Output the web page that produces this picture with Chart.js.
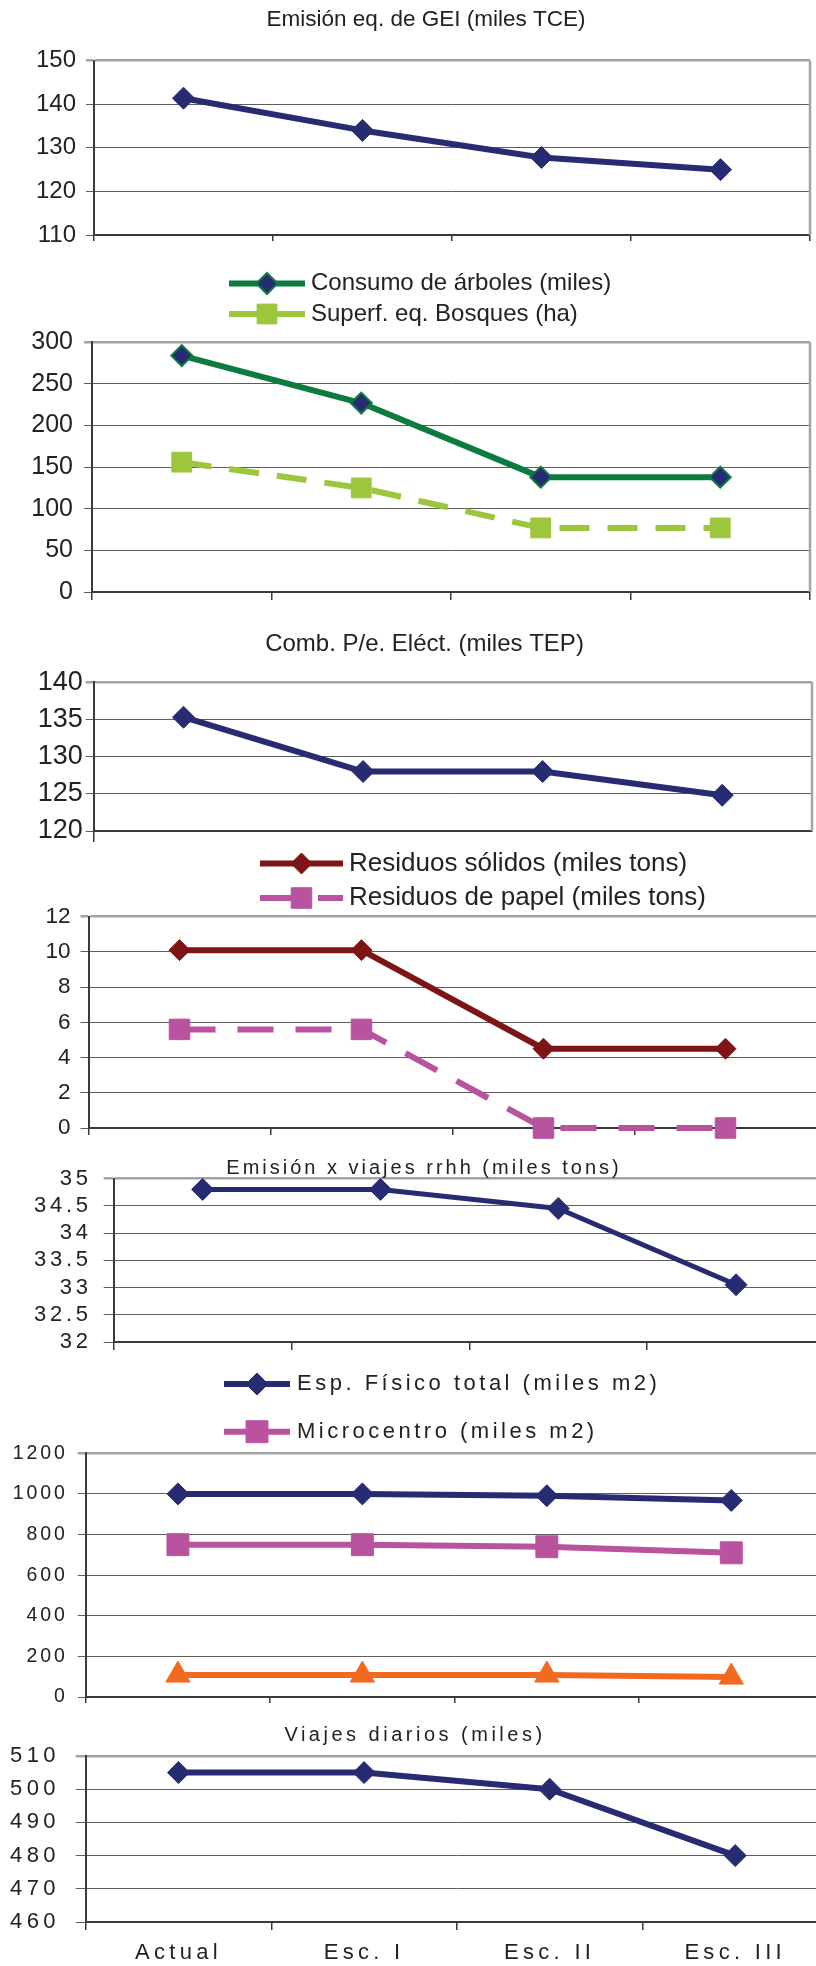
<!DOCTYPE html>
<html>
<head>
<meta charset="utf-8">
<script src="https://cdn.jsdelivr.net/npm/chart.js@4.4.1/dist/chart.umd.min.js"></script>
<style>
  html, body { margin: 0; padding: 0; background: #fff; overflow: hidden; width: 816px; height: 1966px; }
  .panel { position: absolute; left: 0; }
</style>
</head>
<body>
<script>
/* Escenarios: Actual, Esc. I, Esc. II, Esc. III */

const CATEGORIES = ['Actual', 'Esc. I', 'Esc. II', 'Esc. III'];

// valores
const emisionGEI      = [141.4, 134.0, 127.8, 125.0];
const consumoArboles  = [284, 227, 138, 138];
const superfBosques   = [156, 125, 77, 77];
const combElectrica   = [135.3, 128.0, 128.0, 124.8];
const residuosSolidos = [10.1, 10.1, 4.5, 4.5];
const residuosPapel   = [5.6, 5.6, 0, 0];
const emisionViajes   = [34.8, 34.8, 34.45, 33.05];
const espFisicoTotal  = [1000, 1000, 991, 968];
const microcentro     = [750, 750, 740, 710];
const espOtros        = [108, 108, 108, 98];
const viajesDiarios   = [505, 505, 500, 480];

// ejes y: [min, max, paso]
const axisGEI      = [110, 150, 10];
const axisArboles  = [0, 300, 50];
const axisComb     = [120, 140, 5];
const axisResiduos = [0, 12, 2];
const axisViajesRR = [32, 35, 0.5];
const axisEspacio  = [0, 1200, 200];
const axisViajes   = [460, 510, 10];

const COLOR = {
  navy:      '#272b72',
  green:     '#0c7b3f',
  lightGreen:'#9cc63b',
  darkRed:   '#7d1517',
  pink:      '#b9529f',
  orange:    '#f26a21',
  text:      '#222222',
  grid:      '#5e5e5e',
  frame:     '#a3a3a3',
  axis:      '#3a3a3a',
};

const FONT = '"Liberation Sans", Arial, sans-serif';
const PAGE_W = 840;
const X_AXIS_H = 50;

Chart.defaults.font.family = FONT;
Chart.defaults.color = COLOR.text;

function drawMarker(ctx, ds, x, y) {
  const r = ds.pointRadius;
  ctx.fillStyle = ds.pointBackgroundColor;
  ctx.strokeStyle = ds.pointBorderColor;
  ctx.lineWidth = ds.pointBorderWidth || 1;
  ctx.beginPath();
  if (ds.pointStyle === 'rectRot') {
    ctx.moveTo(x - r, y); ctx.lineTo(x, y - r); ctx.lineTo(x + r, y); ctx.lineTo(x, y + r);
  } else if (ds.pointStyle === 'rect') {
    const s = r * Math.SQRT1_2;
    ctx.rect(x - s, y - s, 2 * s, 2 * s);
  } else {
    ctx.moveTo(x, y - r); ctx.lineTo(x + r * 0.866, y + r / 2); ctx.lineTo(x - r * 0.866, y + r / 2);
  }
  ctx.closePath();
  ctx.fill();
  ctx.stroke();
}

// títulos, leyendas, borde derecho y espaciado de letras
const panelText = {
  id: 'panelText',
  beforeUpdate(chart, args, opts) { chart.ctx.letterSpacing = (opts.spacing || 0) + 'px'; },
  beforeDraw(chart, args, opts) { chart.ctx.letterSpacing = (opts.spacing || 0) + 'px'; },
  beforeDatasetsDraw(chart, args, opts) {
    if (!opts.rightBorder) return;
    const { ctx, chartArea: a } = chart;
    ctx.save();
    ctx.strokeStyle = COLOR.frame;
    ctx.lineWidth = 2.5;
    ctx.beginPath();
    ctx.moveTo(a.right, a.top);
    ctx.lineTo(a.right, a.bottom);
    ctx.stroke();
    ctx.restore();
  },
  afterDraw(chart, args, opts) {
    const ctx = chart.ctx;
    const y0 = opts.top;
    ctx.save();
    ctx.textBaseline = 'middle';
    if (opts.title) {
      const t = opts.title;
      ctx.fillStyle = COLOR.text;
      ctx.letterSpacing = (t.spacing || 0) + 'px';
      ctx.font = `${t.size}px ${FONT}`;
      ctx.textAlign = 'center';
      ctx.fillText(t.text, t.x, t.y - y0);
    }
    const lg = opts.legend;
    if (lg) {
      lg.items.forEach(item => {
        const ds = chart.data.datasets[item.ds];
        const y = item.y - y0;
        ctx.save();
        ctx.strokeStyle = ds.borderColor;
        ctx.lineWidth = ds.borderWidth;
        ctx.setLineDash(ds.borderDash || []);
        ctx.beginPath();
        ctx.moveTo(lg.x0, y);
        ctx.lineTo(lg.x1, y);
        ctx.stroke();
        ctx.setLineDash([]);
        drawMarker(ctx, ds, (lg.x0 + lg.x1) / 2, y);
        ctx.restore();
        ctx.fillStyle = COLOR.text;
        ctx.letterSpacing = (lg.spacing || 0) + 'px';
        ctx.font = `${lg.size}px ${FONT}`;
        ctx.textAlign = 'left';
        ctx.fillText(ds.label, lg.tx, y);
      });
    }
    ctx.restore();
  }
};

function series(label, data, color, style, radius, extra = {}) {
  return Object.assign({
    label,
    data,
    borderColor: color,
    backgroundColor: color,
    borderWidth: 6,
    pointStyle: style,
    pointRadius: radius,
    pointHoverRadius: radius,
    pointBackgroundColor: color,
    pointBorderColor: color,
    pointBorderWidth: 1,
    tension: 0,
    fill: false,
    clip: false,
    borderJoinStyle: 'round',
  }, extra);
}

function makePanel(p) {
  const a = p.area;
  const h = Math.round(a.b - p.top + X_AXIS_H);
  const canvas = document.createElement('canvas');
  canvas.className = 'panel';
  canvas.width = PAGE_W;
  canvas.height = h;
  canvas.style.top = p.top + 'px';
  canvas.style.width = PAGE_W + 'px';
  canvas.style.height = h + 'px';
  document.body.appendChild(canvas);

  const [min, max, step] = p.axis;
  new Chart(canvas, {
    type: 'line',
    data: { labels: CATEGORIES, datasets: p.datasets },
    options: {
      responsive: false,
      animation: false,
      events: [],
      layout: { padding: { top: a.t - p.top, left: 0, right: PAGE_W - a.r, bottom: 0 } },
      plugins: {
        legend: { display: false },
        title: { display: false },
        tooltip: { enabled: false },
        panelText: {
          top: p.top,
          spacing: p.spacing || 0,
          rightBorder: !!p.rightBorder,
          title: p.title || null,
          legend: p.legend || null,
        },
      },
      scales: {
        x: {
          offset: true,
          grid: {
            offset: true,
            drawOnChartArea: false,
            drawTicks: true,
            tickLength: p.xTick,
            lineWidth: 1.5,
            color: ctx => (p.xTickFirstOnly && ctx.index !== 0) ? 'rgba(0,0,0,0)' : COLOR.axis,
          },
          border: { color: COLOR.axis, width: 2 },
          ticks: {
            display: !!p.xLabels,
            autoSkip: false,
            maxRotation: 0,
            color: COLOR.text,
            font: { size: p.xFont || 22 },
            padding: p.xPad || 10,
          },
          afterFit: s => { s.height = X_AXIS_H; },
        },
        y: {
          min, max,
          ticks: {
            stepSize: step,
            autoSkip: false,
            color: COLOR.text,
            font: { size: p.yFont },
            padding: p.yPad,
            callback: v => String(v),
          },
          grid: {
            tickLength: p.yTick || 8,
            color: ctx => (ctx.tick && ctx.tick.value === max) ? COLOR.frame : COLOR.grid,
            lineWidth: ctx => (ctx.tick && ctx.tick.value === max) ? 2.5 : 1,
          },
          border: { color: COLOR.axis, width: 2 },
          afterFit: s => { s.width = a.l; },
        },
      },
    },
    plugins: [panelText],
  });
}

// 1. Emisión eq. de GEI
makePanel({
  top: 0,
  area: { l: 94, r: 810, t: 60.7, b: 235 },
  axis: axisGEI, yFont: 24, yPad: 10, xTick: 6, rightBorder: true,
  title: { text: 'Emisión eq. de GEI (miles TCE)', x: 426, y: 20, size: 22.5 },
  datasets: [series('Emisión eq. de GEI (miles TCE)', emisionGEI, COLOR.navy, 'rectRot', 11)],
});

// 2. Consumo de árboles / Superficie de bosques
makePanel({
  top: 255,
  area: { l: 92, r: 810, t: 342.3, b: 592 },
  axis: axisArboles, yFont: 25, yPad: 11, xTick: 8, rightBorder: true,
  legend: {
    x0: 229, x1: 305, tx: 311, size: 24,
    items: [{ ds: 0, y: 283.5 }, { ds: 1, y: 314 }],
  },
  datasets: [
    series('Consumo de árboles (miles)', consumoArboles, COLOR.green, 'rectRot', 10.5,
      { pointBackgroundColor: COLOR.navy, pointBorderColor: COLOR.green, pointBorderWidth: 2 }),
    series('Superf. eq. Bosques (ha)', superfBosques, COLOR.lightGreen, 'rect', 14,
      { borderWidth: 6, borderDash: [30, 18] }),
  ],
});

// 3. Combustible para energía eléctrica
makePanel({
  top: 615,
  area: { l: 93.7, r: 812, t: 682.3, b: 831 },
  axis: axisComb, yFont: 27, yPad: 3, xTick: 11, xTickFirstOnly: true, rightBorder: true,
  title: { text: 'Comb. P/e. Eléct. (miles TEP)', x: 424.5, y: 644, size: 24 },
  datasets: [series('Comb. P/e. Eléct. (miles TEP)', combElectrica, COLOR.navy, 'rectRot', 11)],
});

// 4. Residuos
makePanel({
  top: 840,
  area: { l: 88.5, r: 816.5, t: 916.7, b: 1127.7 },
  axis: axisResiduos, yFont: 22.5, yPad: 10, xTick: 7,
  legend: {
    x0: 260, x1: 343, tx: 349, size: 26,
    items: [{ ds: 0, y: 863.5 }, { ds: 1, y: 898 }],
  },
  datasets: [
    series('Residuos sólidos (miles tons)', residuosSolidos, COLOR.darkRed, 'rectRot', 10.5),
    series('Residuos de papel (miles tons)', residuosPapel, COLOR.pink, 'rect', 14.5,
      { borderWidth: 6, borderDash: [36, 22] }),
  ],
});

// 5. Emisión por viajes de RRHH
makePanel({
  top: 1140,
  area: { l: 113.7, r: 825, t: 1178.5, b: 1342.3 },
  axis: axisViajesRR, yFont: 22, yPad: 12, yTick: 10, xTick: 8, spacing: 3.7,
  title: { text: 'Emisión x viajes rrhh (miles tons)', x: 424, y: 1168.5, size: 20, spacing: 3 },
  datasets: [series('Emisión x viajes rrhh (miles tons)', emisionViajes, COLOR.navy, 'rectRot', 11,
    { borderWidth: 5 })],
});

// 6. Espacio físico
makePanel({
  top: 1360,
  area: { l: 85.7, r: 828.5, t: 1453.3, b: 1696.7 },
  axis: axisEspacio, yFont: 19.5, yPad: 10, xTick: 6, spacing: 2.9,
  legend: {
    x0: 224, x1: 290, tx: 297, size: 22, spacing: 3.5,
    items: [{ ds: 0, y: 1384 }, { ds: 1, y: 1431.7 }],
  },
  datasets: [
    series('Esp. Físico total (miles m2)', espFisicoTotal, COLOR.navy, 'rectRot', 11),
    series('Microcentro (miles m2)', microcentro, COLOR.pink, 'rect', 15.5),
    series('', espOtros, COLOR.orange, 'triangle', 14),
  ],
});

// 7. Viajes diarios
makePanel({
  top: 1712,
  area: { l: 85.7, r: 828.5, t: 1756, b: 1921.5 },
  axis: axisViajes, yFont: 22, yPad: 16, yTick: 10, xTick: 8, spacing: 4.3,
  xLabels: true, xFont: 22, xPad: 10,
  title: { text: 'Viajes diarios (miles)', x: 415, y: 1735, size: 20, spacing: 3.5 },
  datasets: [series('Viajes diarios (miles)', viajesDiarios, COLOR.navy, 'rectRot', 11)],
});
</script>
</body>
</html>
